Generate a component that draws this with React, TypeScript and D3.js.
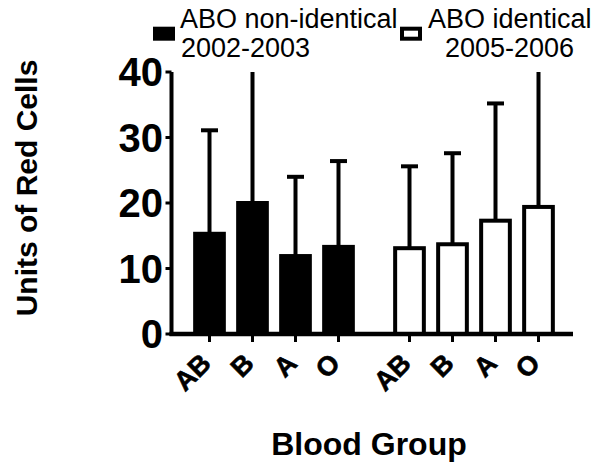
import React from "react";
import * as d3 from "d3";

const categories = ["AB", "B", "A", "O"];
const nonIdenticalMean = [15.3, 20.0, 11.9, 13.3];
const nonIdenticalUpper = [31.1, 46.0, 24.0, 26.4];
const identicalMean = [13.1, 13.7, 17.3, 19.4];
const identicalUpper = [25.6, 27.6, 35.2, 44.0];
const yTicks = [0, 10, 20, 30, 40];
const seriesNames = [["ABO non-identical", "2002-2003"], ["ABO identical", "2005-2006"]];

const W = 600;
const H = 469;
const FONT = "'Liberation Sans', Arial, Helvetica, sans-serif";

export default function App() {
  const y = d3.scaleLinear().domain([0, 40]).range([334, 72]);
  const step = 43;
  const groupGap = 71 - step;
  const x = d3.scaleLinear().domain([0, 1]).range([209.5, 209.5 + step]);
  const pos = (g: number, i: number) => x(i) + g * (4 * step + groupGap);
  const axisLeft = 171.5;
  const axisRight = 573;
  const barW = 28.7;
  const capW = 17;

  const groups = [
    { mean: nonIdenticalMean, upper: nonIdenticalUpper, fill: "#000" },
    { mean: identicalMean, upper: identicalUpper, fill: "#fff" },
  ];

  return (
    <svg width={W} height={H} style={{ position: "absolute", left: 0, top: 0, background: "#fff" }} fontFamily={FONT}>
      {/* error bars */}
      {groups.map((g, gi) =>
        g.mean.map((m, i) => {
          const cx = pos(gi, i);
          const top = Math.min(g.upper[i], 40);
          return (
            <g key={`e${gi}${i}`}>
              <line x1={cx} x2={cx} y1={y(m)} y2={y(top)} stroke="#000" strokeWidth={4} />
              {g.upper[i] <= 40 && (
                <line x1={cx - capW / 2} x2={cx + capW / 2} y1={y(top)} y2={y(top)} stroke="#000" strokeWidth={4} />
              )}
            </g>
          );
        })
      )}
      {/* bars */}
      {groups.map((g, gi) =>
        g.mean.map((m, i) => {
          const cx = pos(gi, i);
          return (
            <rect
              key={`b${gi}${i}`}
              x={cx - barW / 2}
              y={y(m)}
              width={barW}
              height={y(0) - y(m)}
              fill={g.fill}
              stroke="#000"
              strokeWidth={4}
            />
          );
        })
      )}
      {/* y axis */}
      <line x1={axisLeft} x2={axisLeft} y1={y(40)} y2={y(0) + 2} stroke="#000" strokeWidth={4} />
      {yTicks.map((t) => (
        <g key={`yt${t}`}>
          <line x1={axisLeft - 6} x2={axisLeft} y1={y(t)} y2={y(t)} stroke="#000" strokeWidth={3} />
          <text x={163} y={y(t)} dy="0.36em" textAnchor="end" fontSize={40} fontWeight="bold">
            {t}
          </text>
        </g>
      ))}
      {/* x axis */}
      <line x1={axisLeft - 2} x2={axisRight} y1={y(0)} y2={y(0)} stroke="#000" strokeWidth={4.5} />
      {[0, 1].map((gi) =>
        categories.map((c, i) => {
          const cx = pos(gi, i);
          return (
            <g key={`xt${gi}${i}`}>
              <line x1={cx} x2={cx} y1={y(0)} y2={y(0) + 8} stroke="#000" strokeWidth={3} />
              <text
                transform={`translate(${cx + 3},${365}) rotate(-45)`}
                textAnchor="end"
                fontSize={27}
                fontWeight="bold"
                stroke="#000"
                strokeWidth={0.6}
              >
                {c}
              </text>
            </g>
          );
        })
      )}
      {/* axis titles */}
      <text x={369} y={455} textAnchor="middle" fontSize={32} fontWeight="bold">
        Blood Group
      </text>
      <text transform={`translate(37,188) rotate(-90)`} textAnchor="middle" fontSize={30} fontWeight="bold">
        Units of Red Cells
      </text>
      {/* legend */}
      <rect x={153} y={26.7} width={22} height={14} fill="#000" />
      <text x={180} y={28.3} fontSize={27}>{seriesNames[0][0]}</text>
      <text x={181} y={56.7} fontSize={27}>{seriesNames[0][1]}</text>
      <rect x={402} y={28.7} width={18} height={10} fill="#fff" stroke="#000" strokeWidth={4} />
      <text x={428} y={28.3} fontSize={27}>{seriesNames[1][0]}</text>
      <text x={445} y={56.7} fontSize={27}>{seriesNames[1][1]}</text>
    </svg>
  );
}
